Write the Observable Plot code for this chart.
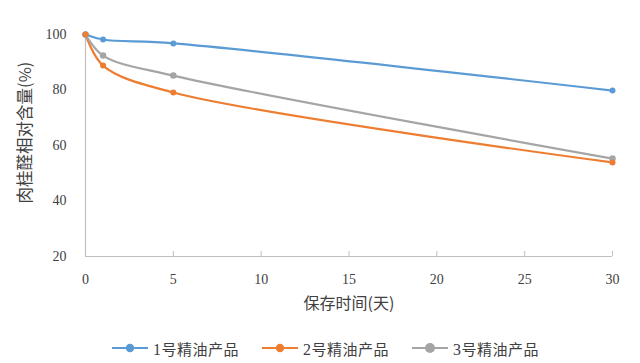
<!DOCTYPE html>
<html>
<head>
<meta charset="utf-8">
<script src="https://cdn.jsdelivr.net/npm/d3@7"></script>
<script src="https://cdn.jsdelivr.net/npm/@observablehq/plot@0.6"></script>
<style>
  html, body { margin: 0; padding: 0; background: #fff; }
  #chart { width: 640px; height: 363px; position: relative; overflow: hidden; }
  .legend { display: flex; justify-content: center; align-items: center; gap: 22px; height: 40px; margin-top: 6px;
    font-family: "Noto Sans CJK SC", sans-serif; font-size: 15px; color: #404040; margin-left: 10px; letter-spacing: 0.5px; }
  .legend .item { display: flex; align-items: center; gap: 4px; }
  .legend .num { font-family: "Times New Roman", "Liberation Serif", "DejaVu Serif", serif; font-size: 16px; }
</style>
</head>
<body>
<div id="chart"></div>
<script>
const days = [0, 1, 5, 30];
const seriesNames = ["1号精油产品", "2号精油产品", "3号精油产品"];
const series1 = [100, 98.2, 96.8, 79.8];
const series2 = [100, 88.8, 79.1, 53.9];
const series3 = [100, 92.4, 85.2, 55.3];
const colors = ["#5B9BD5", "#ED7D31", "#A5A5A5"];
const xTicks = [0, 5, 10, 15, 20, 25, 30];
const yTicks = [20, 40, 60, 80, 100];
const xLabel = "保存时间(天)";
const yLabel = "肉桂醛相对含量(%)";

const allSeries = [series1, series2, series3];
const data = [];
allSeries.forEach((vals, i) => vals.forEach((v, j) => data.push({day: days[j], value: v, series: seriesNames[i]})));

const serif = "'Times New Roman', 'Liberation Serif', 'DejaVu Serif', serif";
const cjk = "'Noto Sans CJK SC', sans-serif";

const plot = Plot.plot({
  width: 640,
  height: 322,
  marginLeft: 85,
  marginRight: 28,
  marginTop: 34,
  marginBottom: 66,
  style: {fontFamily: serif, fontSize: "14px", background: "#fff"},
  x: {domain: [0, 30], ticks: xTicks},
  y: {domain: [20, 100], ticks: yTicks},
  color: {domain: seriesNames, range: colors},
  marks: [
    Plot.ruleX([0], {stroke: "#bfbfbf", strokeWidth: 1.2}),
    Plot.ruleY([20], {stroke: "#bfbfbf", strokeWidth: 1.2}),
    Plot.axisX({ticks: xTicks, tickSize: -5, stroke: "#bfbfbf", text: null, label: null}),
    Plot.axisX({ticks: xTicks, tickSize: 0, tickPadding: 18, fontFamily: serif, fontSize: 14, fill: "#404040", label: null}),
    Plot.axisY({ticks: yTicks, tickSize: 0, tickPadding: 19, fontFamily: serif, fontSize: 14, fill: "#404040", label: null}),
    Plot.text([xLabel], {frameAnchor: "bottom", dy: 52, text: d => d, fontFamily: cjk, fontSize: 16, fill: "#404040"}),
    Plot.text([yLabel], {frameAnchor: "left", textAnchor: "middle", dx: -60, dy: -13, rotate: -90, text: d => d, fontFamily: cjk, fontSize: 16.5, fill: "#404040"}),
    Plot.line(data, {x: "day", y: "value", z: "series", stroke: "series", strokeWidth: 2.2, curve: "catmull-rom"}),
    Plot.dot(data, {x: "day", y: "value", fill: "series", r: d => d.series === seriesNames[2] ? 5.3 : 4.5})
  ]
});
document.getElementById("chart").appendChild(plot);

const legend = document.createElement("div");
legend.className = "legend";
seriesNames.forEach((name, i) => {
  const item = document.createElement("div");
  item.className = "item";
  const r = i === 2 ? 5 : 4.2;
  item.innerHTML = `<svg width="38" height="12"><line x1="1" x2="37" y1="6" y2="6" stroke="${colors[i]}" stroke-width="2.2"/><circle cx="19" cy="6" r="${r}" fill="${colors[i]}"/></svg><span><span class="num">${name[0]}</span>${name.slice(1)}</span>`;
  legend.appendChild(item);
});
document.getElementById("chart").appendChild(legend);
</script>
</body>
</html>
